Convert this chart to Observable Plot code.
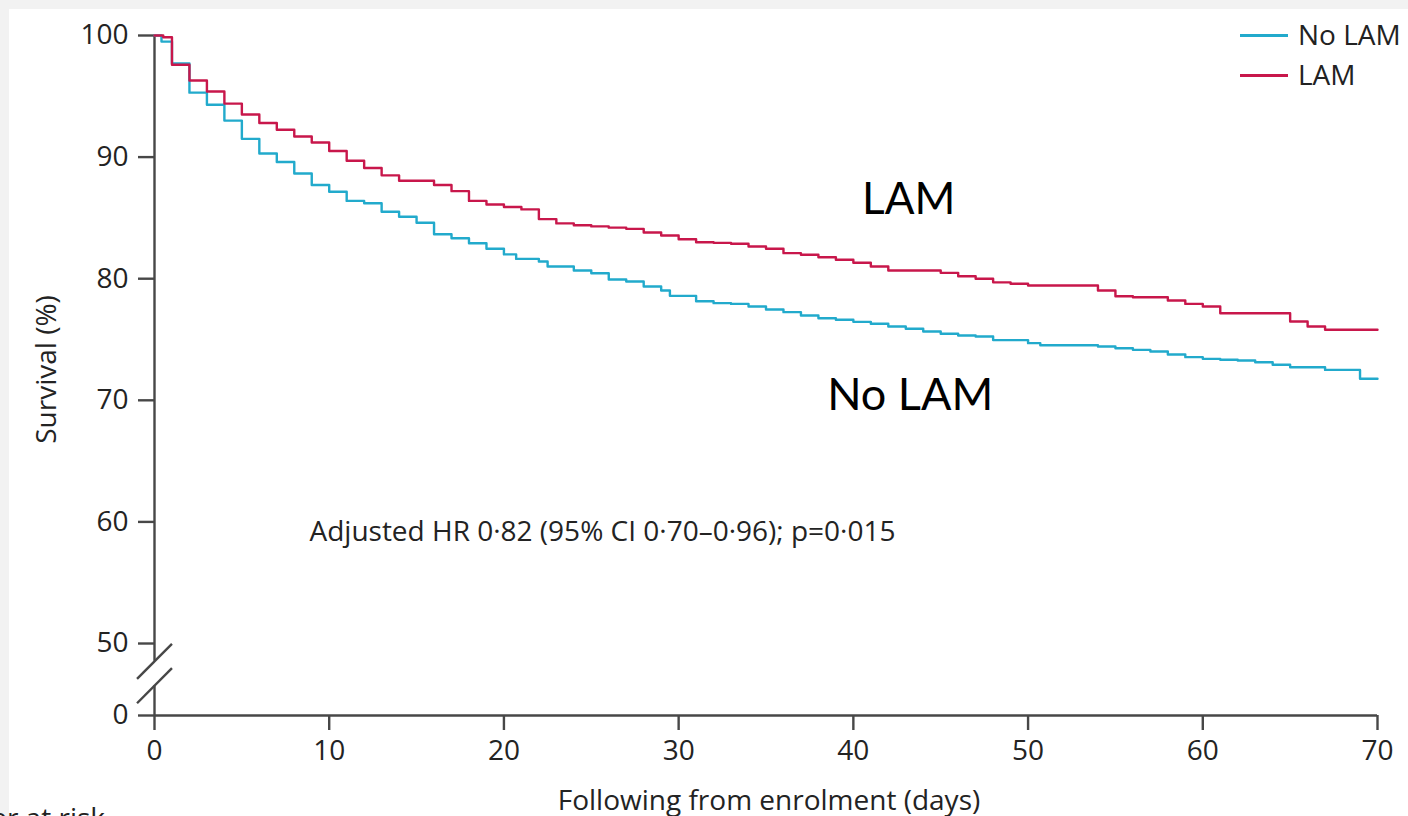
<!DOCTYPE html>
<html><head><meta charset="utf-8">
<script src="https://cdn.jsdelivr.net/npm/d3@7"></script>
<script src="https://cdn.jsdelivr.net/npm/@observablehq/plot@0.6"></script>
<style>
html,body{margin:0;padding:0;overflow:hidden;background:#f2f2f2;width:1408px;height:816px;font-family:"Open Sans",sans-serif;}
#panel{position:absolute;left:9px;top:9px;width:1399px;height:807px;background:#fff;}
#panel svg{display:block;}
#legend{position:absolute;left:1240px;top:14px;font-size:28px;color:#222;}
.li{position:relative;height:40px;}
.li .sw{position:absolute;left:0;top:20px;width:48px;height:2.5px;}
.li .lb{position:absolute;left:58px;top:0;line-height:40px;white-space:nowrap;}
#risk{position:absolute;right:1303px;top:798px;font-size:28px;color:#222;white-space:nowrap;}
</style></head><body>
<div id="panel"></div>
<div id="legend"></div>
<div id="risk">Number at risk</div>
<script>
const seriesNames = ["No LAM", "LAM"];
const seriesColors = ["#22aacc", "#c8174b"];

const lamDays = [0, 0.5, 1, 2, 3, 4, 5, 6, 7, 8, 9, 10, 11, 12, 13, 14, 16, 17, 18, 19, 20, 21, 22, 23, 24, 25, 26, 27, 28, 29, 30, 31, 32, 33, 34, 35, 36, 37, 38, 39, 40, 41, 42, 45, 46, 47, 48, 49, 50, 54, 55, 56, 58, 59, 60, 61, 65, 66, 67, 70];
const lamSurv = [100, 99.85, 97.6, 96.3, 95.4, 94.4, 93.5, 92.8, 92.25, 91.7, 91.2, 90.5, 89.7, 89.1, 88.5, 88.05, 87.7, 87.2, 86.4, 86.1, 85.9, 85.7, 84.9, 84.55, 84.4, 84.3, 84.2, 84.1, 83.8, 83.55, 83.25, 83.0, 82.95, 82.87, 82.65, 82.46, 82.1, 81.97, 81.77, 81.56, 81.31, 81.0, 80.67, 80.48, 80.2, 80.0, 79.7, 79.58, 79.44, 79.03, 78.56, 78.48, 78.21, 77.93, 77.71, 77.16, 76.48, 76.07, 75.8, 75.8];

const noLamDays = [0, 0.4, 1, 2, 3, 4, 5, 6, 7, 8, 9, 10, 11, 12, 13, 14, 15, 16, 17, 18, 19, 20, 20.7, 22, 22.5, 24, 25, 26, 27, 28, 29, 29.5, 31, 32, 33, 34, 35, 36, 37, 38, 39, 40, 41, 42, 43, 44, 45, 46, 47, 48, 50, 50.7, 54, 55, 56, 57, 58, 59, 60, 61, 62, 63, 64, 65, 67, 69, 70];
const noLamSurv = [100, 99.5, 97.7, 95.3, 94.3, 93.0, 91.5, 90.3, 89.6, 88.65, 87.7, 87.15, 86.4, 86.2, 85.5, 85.1, 84.6, 83.65, 83.33, 82.92, 82.46, 82.0, 81.63, 81.41, 81.0, 80.67, 80.45, 79.93, 79.77, 79.36, 79.03, 78.59, 78.15, 77.99, 77.93, 77.71, 77.47, 77.25, 76.97, 76.75, 76.62, 76.45, 76.29, 76.07, 75.88, 75.66, 75.47, 75.33, 75.25, 74.95, 74.7, 74.53, 74.42, 74.28, 74.15, 74.01, 73.77, 73.55, 73.41, 73.33, 73.27, 73.13, 72.92, 72.72, 72.5, 71.77, 71.77];

const xTicks = [0, 10, 20, 30, 40, 50, 60, 70];
const yTicks = [0, 50, 60, 70, 80, 90, 100];
const xLabel = "Following from enrolment (days)";
const yLabel = "Survival (%)";
const hrNote = "Adjusted HR 0·82 (95% CI 0·70–0·96); p=0·015";

// Broken y axis: the 0–50 segment is compressed. brk maps survival % to the scale's axis units.
const breakAt = 50;
const compress = 0.1184;
const brk = v => v >= breakAt ? v : breakAt - (breakAt - v) * compress;
const unbrk = u => u >= breakAt ? u : breakAt - (breakAt - u) / compress;

const rows = [
  ...noLamDays.map((d, i) => ({day: d, surv: noLamSurv[i], group: "No LAM"})),
  ...lamDays.map((d, i) => ({day: d, surv: lamSurv[i], group: "LAM"}))
];

const axisColor = "#474747";
const textColor = "#232323";

const chart = Plot.plot({
  width: 1399,
  height: 807,
  marginLeft: 145,
  marginRight: 31,
  marginTop: 26,
  marginBottom: 101,
  style: {fontFamily: "'Open Sans', sans-serif", fontSize: "28px", color: textColor, background: "transparent", overflow: "visible"},
  x: {domain: [0, 70], axis: null},
  y: {domain: [brk(0), 100], axis: null},
  color: {domain: seriesNames, range: seriesColors},
  marks: [
    Plot.ruleY([brk(0)], {stroke: axisColor, strokeWidth: 2.4}),
    Plot.ruleX([0], {y1: 100, y2: brk(37.6), stroke: axisColor, strokeWidth: 2.4}),
    Plot.ruleX([0], {y1: brk(20.7), y2: brk(0), stroke: axisColor, strokeWidth: 2.4}),
    Plot.link([37.6, 20.7], {x1: -1.0, x2: 1.0, y1: d => brk(d - 12.2), y2: d => brk(d + 12.2), stroke: axisColor, strokeWidth: 2.4}),
    Plot.axisX({ticks: xTicks, label: null, tickSize: 15, tickPadding: 10, stroke: axisColor, strokeWidth: 2.4, strokeOpacity: 1, fill: textColor, tickFormat: d => String(d), fontSize: 28}),
    Plot.axisY({ticks: yTicks.map(brk), label: null, tickSize: 16, tickPadding: 10, stroke: axisColor, strokeWidth: 2.4, strokeOpacity: 1, fill: textColor, tickFormat: u => String(Math.round(unbrk(u))), fontSize: 28}),
    Plot.line(rows, {x: "day", y: d => brk(d.surv), z: "group", stroke: "group", curve: "step-after", strokeWidth: 2.4}),
    Plot.text([xLabel], {frameAnchor: "bottom", dx: 3, dy: 75, lineAnchor: "top", fill: textColor, fontSize: 28}),
    Plot.text([yLabel], {frameAnchor: "left", rotate: -90, textAnchor: "middle", dx: -107, dy: -6, fill: textColor, fontSize: 28}),
    Plot.text([hrNote], {x: 8.87, y: 58.4, textAnchor: "start", lineAnchor: "bottom", fill: textColor, fontSize: 28}),
    Plot.text(["LAM"], {x: 40.5, y: 85.3, textAnchor: "start", lineAnchor: "bottom", fill: "#000", fontSize: 44, fontFamily: "Lato, sans-serif"}),
    Plot.text(["No LAM"], {x: 38.5, y: 69.2, textAnchor: "start", lineAnchor: "bottom", fill: "#000", fontSize: 45, fontFamily: "Lato, sans-serif", letterSpacing: "0.5px"})
  ]
});
document.getElementById("panel").appendChild(chart);

const legend = document.getElementById("legend");
seriesNames.forEach((name, i) => {
  const item = document.createElement("div");
  item.className = "li";
  item.innerHTML = `<div class="sw" style="background:${seriesColors[i]}"></div><div class="lb">${name}</div>`;
  legend.appendChild(item);
});
</script>
</body></html>
